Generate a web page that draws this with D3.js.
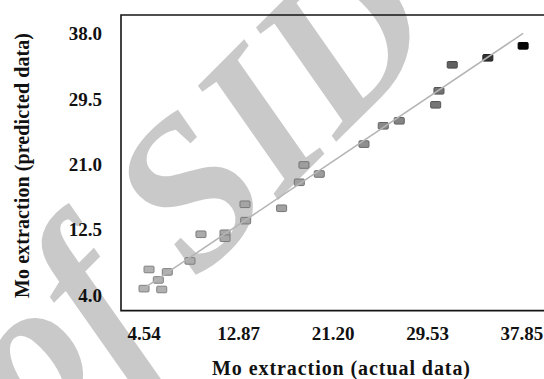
<!DOCTYPE html>
<html>
<head>
<meta charset="utf-8">
<script src="https://cdn.jsdelivr.net/npm/d3@7"></script>
<style>
  html, body { margin: 0; padding: 0; background: #fff; }
  svg { display: block; }
  text { font-family: "Liberation Serif", "Times New Roman", serif; }
</style>
</head>
<body>
<svg id="chart" width="544" height="379"></svg>
<script>
// Mo extraction: actual vs predicted values
const actual = [4.54, 6.10, 4.98, 5.80, 6.59, 8.59, 9.56, 11.68, 11.68, 13.44, 13.50, 16.67,
                18.23, 18.64, 19.99, 23.93, 25.63, 27.04, 30.25, 30.54, 31.71, 34.85, 37.96];
const predicted = [4.86, 4.75, 7.35, 5.99, 7.03, 8.46, 11.93, 12.06, 11.41, 15.83, 13.70, 15.31,
                   18.69, 20.94, 19.77, 23.66, 26.04, 26.69, 28.77, 30.59, 33.97, 34.88, 36.44];
// fitted line end points (actual, predicted)
const fitActual = [4.19, 37.96];
const fitPredicted = [4.56, 38.05];
const xTicks = [4.54, 12.87, 21.20, 29.53, 37.85];
const yTicks = [4.0, 12.5, 21.0, 29.5, 38.0];
const xTitle = "Mo extraction (actual data)";
const yTitle = "Mo extraction (predicted data)";
const mark = "of SID";

const W = 544, H = 379;
const plot = { left: 121, top: 15, right: 544, bottom: 310.6 };
const svg = d3.select("#chart");

// background mark text
svg.append("text")
  .attr("transform", "translate(36,442) rotate(-45)")
  .attr("font-style", "italic")
  .attr("font-weight", "bold")
  .attr("font-size", 210)
  .attr("fill", "#c9c9c9")
  .text(mark);

const x = d3.scaleLinear().domain([2.51, 39.8]).range([plot.left, plot.right]);
const y = d3.scaleLinear().domain([2.0, 40.45]).range([plot.bottom, plot.top]);

// frame: left, top and bottom edges
svg.append("path")
  .attr("d", `M${plot.right + 2},${plot.top}H${plot.left}V${plot.bottom}H${plot.right + 2}`)
  .attr("fill", "none")
  .attr("stroke", "#151515")
  .attr("stroke-width", 1.6);

// tick labels
svg.append("g").selectAll("text").data(xTicks).join("text")
  .attr("x", d => x(d))
  .attr("y", 340)
  .attr("text-anchor", "middle")
  .attr("font-weight", "bold")
  .attr("font-size", 19)
  .attr("fill", "#111")
  .text(d => d.toFixed(2));

svg.append("g").selectAll("text").data(yTicks).join("text")
  .attr("x", 102)
  .attr("y", d => y(d) + 6.6)
  .attr("text-anchor", "end")
  .attr("font-weight", "bold")
  .attr("font-size", 19)
  .attr("fill", "#111")
  .text(d => d.toFixed(1));

// axis titles
svg.append("text")
  .attr("x", 341)
  .attr("y", 375)
  .attr("text-anchor", "middle")
  .attr("font-weight", "bold")
  .attr("font-size", 20)
  .attr("textLength", 258)
  .attr("lengthAdjust", "spacing")
  .attr("fill", "#111")
  .text(xTitle);

svg.append("text")
  .attr("transform", "translate(29,165.5) rotate(-90)")
  .attr("text-anchor", "middle")
  .attr("font-weight", "bold")
  .attr("font-size", 20)
  .attr("textLength", 265)
  .attr("lengthAdjust", "spacing")
  .attr("fill", "#111")
  .text(yTitle);

// markers shade from light grey to black along the actual axis
const shade = d3.scaleLinear()
  .domain([4.5, 20, 30, 35, 38])
  .range(["#b2b2b2", "#9c9c9c", "#7a7a7a", "#303030", "#050505"]);

const pts = actual.map((a, i) => ({ a, p: predicted[i] }));
svg.append("g").selectAll("rect").data(pts).join("rect")
  .attr("x", d => x(d.a) - 5)
  .attr("y", d => y(d.p) - 3.3)
  .attr("width", 10)
  .attr("height", 6.6)
  .attr("rx", 1)
  .attr("fill", d => shade(d.a))
  .attr("stroke", d => d3.color(shade(d.a)).darker(0.9))
  .attr("stroke-width", 1);

// fitted line over the markers
const fit = fitActual.map((a, i) => [a, fitPredicted[i]]);
svg.append("path")
  .datum(fit)
  .attr("d", d3.line().x(d => x(d[0])).y(d => y(d[1])))
  .attr("fill", "none")
  .attr("stroke", "#b4b4b4")
  .attr("stroke-width", 1.5);
</script>
</body>
</html>
